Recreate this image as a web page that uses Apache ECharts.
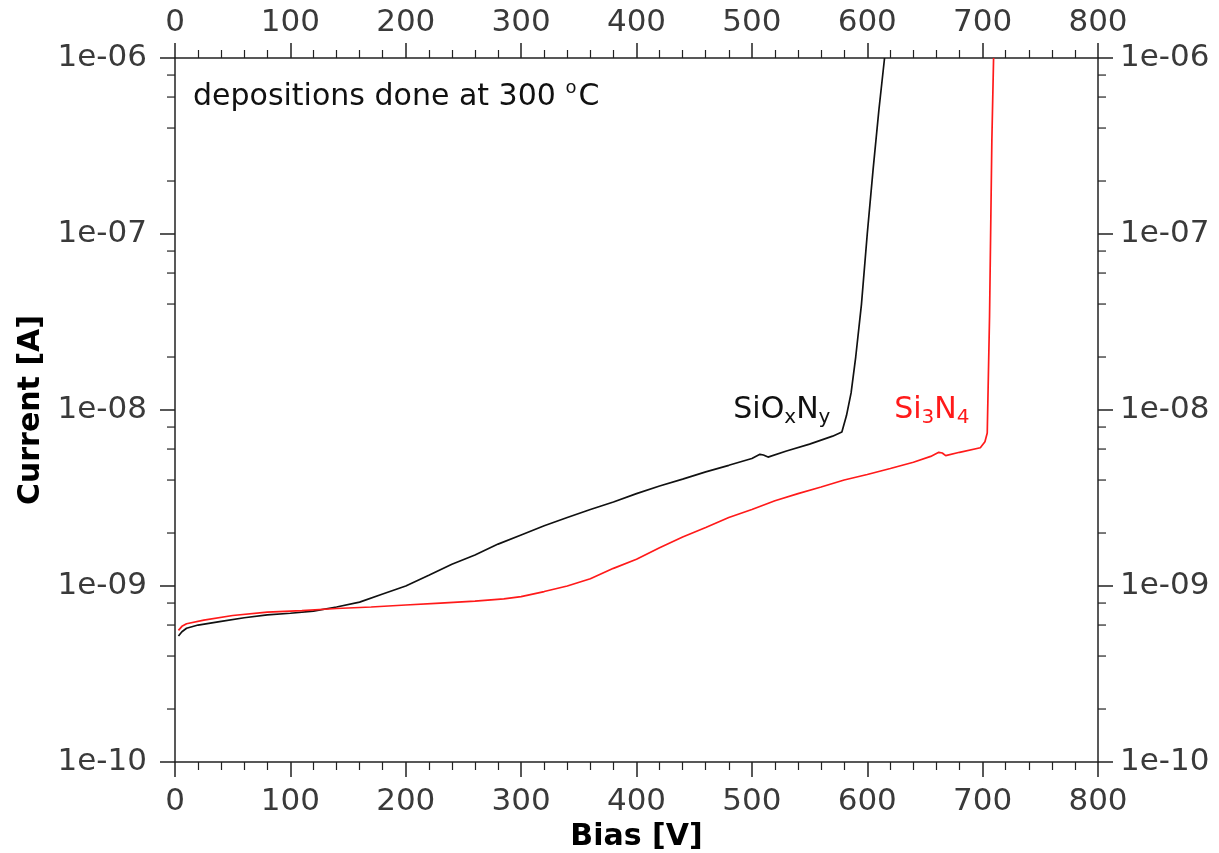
<!DOCTYPE html>
<html>
<head>
<meta charset="utf-8">
<script src="https://cdn.jsdelivr.net/npm/echarts@6/dist/echarts.min.js"></script>
<style>
  html, body { margin: 0; padding: 0; background: #ffffff; }
  #chart { width: 1219px; height: 853px; }
</style>
</head>
<body>
<div id="chart"></div>
<script>
// Axis ticks
const biasTicks = [0, 100, 200, 300, 400, 500, 600, 700, 800];
const currentTicks = [1e-10, 1e-9, 1e-8, 1e-7, 1e-6];
const currentTickLabels = ['1e-10', '1e-09', '1e-08', '1e-07', '1e-06'];
const currentMinorSteps = [2, 4, 6, 8];

// SiOxNy: bias [V] and leakage current [A]
const sioxnyBias = [3, 6, 10, 20, 40, 60, 80, 100, 120, 140, 160, 180, 200, 220, 240,
  260, 280, 300, 320, 340, 360, 380, 400, 420, 440, 460, 480, 500, 507, 510, 514,
  530, 550, 570, 578, 582, 586, 590, 595, 600, 605, 610, 615];
const sioxnyCurrent = [5.2e-10, 5.5e-10, 5.75e-10, 6.0e-10, 6.3e-10, 6.6e-10, 6.85e-10,
  7.0e-10, 7.2e-10, 7.6e-10, 8.1e-10, 9.0e-10, 1.0e-9, 1.15e-9, 1.33e-9,
  1.5e-9, 1.73e-9, 1.95e-9, 2.2e-9, 2.45e-9, 2.72e-9, 3.0e-9, 3.35e-9, 3.7e-9,
  4.05e-9, 4.45e-9, 4.85e-9, 5.3e-9, 5.6e-9, 5.55e-9, 5.4e-9,
  5.85e-9, 6.4e-9, 7.1e-9, 7.5e-9, 9.3e-9, 1.25e-8, 2.0e-8, 4.0e-8, 1.0e-7,
  2.3e-7, 5.0e-7, 1.0e-6];

// Si3N4: bias [V] and leakage current [A]
const si3n4Bias = [3, 6, 10, 25, 50, 80, 110, 140, 170, 200, 230, 260, 285, 300, 320,
  340, 360, 380, 400, 420, 440, 460, 480, 500, 520, 540, 560, 580, 600, 620, 640,
  655, 662, 665, 668, 680, 698, 702, 704, 706, 708, 709.5];
const si3n4Current = [5.6e-10, 5.9e-10, 6.1e-10, 6.4e-10, 6.8e-10, 7.1e-10, 7.25e-10,
  7.45e-10, 7.6e-10, 7.8e-10, 8.0e-10, 8.2e-10, 8.45e-10, 8.7e-10, 9.3e-10,
  1.0e-9, 1.1e-9, 1.26e-9, 1.42e-9, 1.65e-9, 1.9e-9, 2.15e-9, 2.45e-9, 2.72e-9,
  3.05e-9, 3.35e-9, 3.65e-9, 4.0e-9, 4.3e-9, 4.65e-9, 5.05e-9,
  5.45e-9, 5.75e-9, 5.7e-9, 5.5e-9, 5.75e-9, 6.1e-9, 6.6e-9, 7.4e-9, 3.4e-8,
  3.4e-7, 1.0e-6];

const FONT = 'DejaVu Sans';
const AXIS_COLOR = '#222222';
const LABEL_COLOR = '#3a3a3a';

const zip = (xs, ys) => xs.map((x, i) => [x, ys[i]]);

function currentLabel(v) {
  let best = 0, bestErr = Infinity;
  currentTicks.forEach((t, i) => {
    const err = Math.abs(Math.log10(t) - Math.log10(v));
    if (err < bestErr) { bestErr = err; best = i; }
  });
  return currentTickLabels[best];
}

function xAxisCfg(position, withName) {
  return {
    type: 'value',
    position: position,
    min: biasTicks[0],
    max: biasTicks[biasTicks.length - 1],
    interval: biasTicks[1] - biasTicks[0],
    name: withName ? 'Bias [V]' : '',
    nameLocation: 'middle',
    nameGap: 60,
    nameTextStyle: { fontFamily: FONT, fontSize: 30, fontWeight: 'bold', color: '#000' },
    axisLine: { show: true, onZero: false, lineStyle: { color: AXIS_COLOR, width: 1.5 } },
    axisTick: { show: true, inside: false, length: 15, lineStyle: { color: AXIS_COLOR, width: 1.5 } },
    minorTick: { show: true, splitNumber: 5, length: 8, lineStyle: { color: AXIS_COLOR, width: 1.2 } },
    axisLabel: {
      fontFamily: FONT, fontSize: 31, color: LABEL_COLOR,
      margin: position === 'bottom' ? 24 : 20
    },
    splitLine: { show: false },
    minorSplitLine: { show: false }
  };
}

function yAxisCfg(position, withName) {
  return {
    type: 'log',
    logBase: 10,
    position: position,
    min: currentTicks[0],
    max: currentTicks[currentTicks.length - 1],
    splitNumber: currentTicks.length - 1,
    name: withName ? 'Current [A]' : '',
    nameLocation: 'middle',
    nameGap: 127,
    nameTextStyle: { fontFamily: FONT, fontSize: 30, fontWeight: 'bold', color: '#000' },
    axisLine: { show: true, onZero: false, lineStyle: { color: AXIS_COLOR, width: 1.5 } },
    axisTick: { show: true, inside: false, length: 15, lineStyle: { color: AXIS_COLOR, width: 1.5 } },
    axisLabel: {
      fontFamily: FONT, fontSize: 31, color: LABEL_COLOR,
      margin: position === 'left' ? 28 : 22,
      formatter: currentLabel
    },
    splitLine: { show: false }
  };
}

const chart = echarts.init(document.getElementById('chart'), null, { renderer: 'canvas' });

chart.setOption({
  backgroundColor: '#ffffff',
  animation: false,
  grid: { left: 175, right: 121, top: 58, bottom: 91, containLabel: false, outerBoundsMode: 'none' },
  xAxis: [xAxisCfg('bottom', true), xAxisCfg('top', false)],
  yAxis: [yAxisCfg('left', true), yAxisCfg('right', false)],
  series: [
    {
      name: 'SiOxNy', type: 'line', xAxisIndex: 0, yAxisIndex: 0,
      data: zip(sioxnyBias, sioxnyCurrent),
      showSymbol: false, smooth: false, clip: true,
      lineStyle: { color: '#111111', width: 1.7 }
    },
    {
      name: 'Si3N4', type: 'line', xAxisIndex: 0, yAxisIndex: 0,
      data: zip(si3n4Bias, si3n4Current),
      showSymbol: false, smooth: false, clip: true,
      lineStyle: { color: '#ff1a1a', width: 1.7 }
    }
  ]
});

// Log-decade minor ticks (2, 4, 6, 8 per decade) and text annotations
function addOverlay() {
  const xLeft = chart.convertToPixel({ xAxisIndex: 0 }, biasTicks[0]);
  const xRight = chart.convertToPixel({ xAxisIndex: 0 }, biasTicks[biasTicks.length - 1]);
  const graphics = [];
  for (let d = 0; d < currentTicks.length - 1; d++) {
    currentMinorSteps.forEach(m => {
      const y = chart.convertToPixel({ yAxisIndex: 0 }, currentTicks[d] * m);
      graphics.push({
        type: 'line', silent: true,
        shape: { x1: xLeft - 8, y1: y, x2: xLeft, y2: y },
        style: { stroke: AXIS_COLOR, lineWidth: 1.2 }
      });
      graphics.push({
        type: 'line', silent: true,
        shape: { x1: xRight, y1: y, x2: xRight + 8, y2: y },
        style: { stroke: AXIS_COLOR, lineWidth: 1.2 }
      });
    });
  }

  const at = (v, i) => chart.convertToPixel({ seriesIndex: 0 }, [v, i]);

  const p1 = at(15.6, 6e-7);
  graphics.push({
    type: 'text', silent: true, x: p1[0], y: p1[1],
    style: {
      text: '{m|depositions done at 300 }{s|o}{m|C}',
      align: 'left', verticalAlign: 'middle',
      rich: {
        m: { fontFamily: FONT, fontSize: 30, lineHeight: 36, fill: '#111' },
        s: { fontFamily: FONT, fontSize: 18, lineHeight: 8, fill: '#111', verticalAlign: 'top', padding: [0, 2, 0, 0] }
      }
    }
  });

  const p2 = at(526, 1e-8);
  graphics.push({
    type: 'text', silent: true, x: p2[0], y: p2[1],
    style: {
      text: '{m|SiO}{s|x}{m|N}{s|y}',
      align: 'center', verticalAlign: 'middle',
      rich: {
        m: { fontFamily: FONT, fontSize: 30, lineHeight: 36, fill: '#111' },
        s: { fontFamily: FONT, fontSize: 20, lineHeight: 20, fill: '#111', verticalAlign: 'bottom' }
      }
    }
  });

  const p3 = at(656, 1e-8);
  graphics.push({
    type: 'text', silent: true, x: p3[0], y: p3[1],
    style: {
      text: '{m|Si}{s|3}{m|N}{s|4}',
      align: 'center', verticalAlign: 'middle',
      rich: {
        m: { fontFamily: FONT, fontSize: 30, lineHeight: 36, fill: '#ff1a1a' },
        s: { fontFamily: FONT, fontSize: 20, lineHeight: 20, fill: '#ff1a1a', verticalAlign: 'bottom' }
      }
    }
  });

  chart.setOption({ graphic: graphics });
}
addOverlay();
</script>
</body>
</html>
